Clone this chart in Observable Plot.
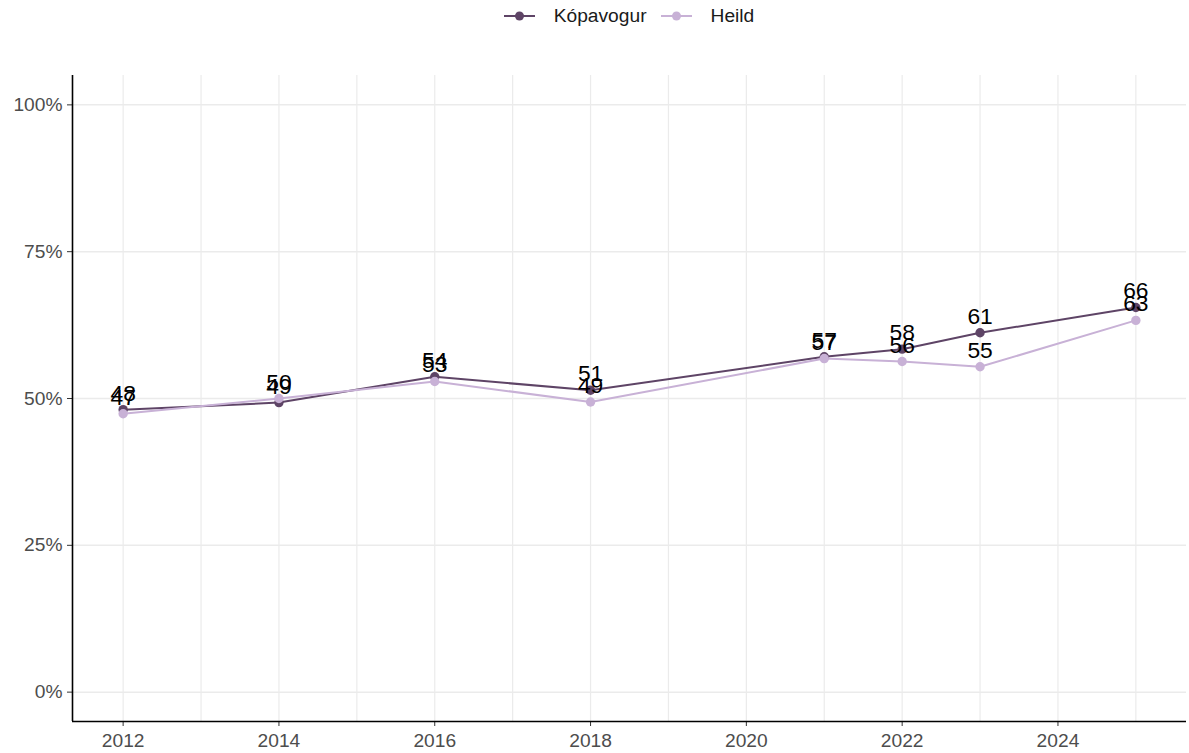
<!DOCTYPE html>
<html>
<head>
<meta charset="utf-8">
<script src="https://cdn.jsdelivr.net/npm/d3@7"></script>
<script src="https://cdn.jsdelivr.net/npm/@observablehq/plot@0.6"></script>
<style>
  body { margin: 0; background: #fff; font-family: "Liberation Sans", Arial, sans-serif; }
  #legend { height: 40px; display: flex; justify-content: center; align-items: center; gap: 14px; font-size: 19.2px; color: #1a1a1a; padding: 0 3px 8px 72px; box-sizing: border-box; width: 1189px; }
  .item { display: flex; align-items: center; gap: 19px; }
  .item svg { display: block; }
</style>
</head>
<body>
<div id="legend"></div>
<div id="chart"></div>
<script>
const years = [2012, 2014, 2016, 2018, 2021, 2022, 2023, 2025];
const kopavogur = [48.1, 49.3, 53.7, 51.4, 57.1, 58.4, 61.2, 65.5];
const heild = [47.4, 50.0, 52.9, 49.4, 56.8, 56.3, 55.4, 63.3];
const seriesNames = ["Kópavogur", "Heild"];
const seriesColors = ["#5e4466", "#c8b1d6"];
const yTicks = [0, 25, 50, 75, 100];
const xTicks = [2012, 2014, 2016, 2018, 2020, 2022, 2024];
const gridYears = d3.range(2012, 2026);

const data = [];
years.forEach((y, i) => data.push({year: y, value: kopavogur[i], series: seriesNames[0]}));
years.forEach((y, i) => data.push({year: y, value: heild[i], series: seriesNames[1]}));

// legend
const legend = document.getElementById("legend");
seriesNames.forEach((name, i) => {
  const item = document.createElement("div");
  item.className = "item";
  item.innerHTML = `<svg width="31" height="12"><line x1="0" x2="31" y1="6" y2="6" stroke="${seriesColors[i]}" stroke-width="2"/><circle cx="15.5" cy="6" r="4.5" fill="${seriesColors[i]}"/></svg><span>${name}</span>`;
  legend.appendChild(item);
});

const xDom = [2011.35, 2025.65];
const yDom = [-5, 105];

const chart = Plot.plot({
  width: 1189,
  height: 713,
  marginLeft: 72,
  marginRight: 3,
  marginTop: 35,
  marginBottom: 32,
  style: {fontFamily: "Liberation Sans, Arial, sans-serif", background: "#fff"},
  x: {domain: xDom, axis: null},
  y: {domain: yDom, axis: null},
  color: {domain: seriesNames, range: seriesColors},
  marks: [
    Plot.ruleX(gridYears, {stroke: "#ebebeb", strokeWidth: 1.2, y1: yDom[0], y2: yDom[1]}),
    Plot.ruleY(yTicks, {stroke: "#ebebeb", strokeWidth: 1.5, x1: xDom[0], x2: xDom[1]}),
    Plot.axisY({ticks: yTicks, tickFormat: d => d + "%", tickSize: 5, tickPadding: 5, fontSize: 19.2, color: "#4d4d4d", stroke: "#333", anchor: "left", label: null}),
    Plot.axisX({ticks: xTicks, tickFormat: d => String(d), tickSize: 5, tickPadding: 7, fontSize: 19.2, color: "#4d4d4d", stroke: "#333", anchor: "bottom", label: null}),
    Plot.ruleX([xDom[0]], {y1: yDom[0], y2: yDom[1], stroke: "#000", strokeWidth: 1.6}),
    Plot.ruleY([yDom[0]], {x1: xDom[0], x2: xDom[1], stroke: "#000", strokeWidth: 1.6}),
    Plot.line(data, {x: "year", y: "value", z: "series", stroke: "series", strokeWidth: 2}),
    Plot.dot(data, {x: "year", y: "value", fill: "series", r: 4.7}),
    Plot.text(data, {x: "year", y: "value", text: d => String(Math.round(d.value)), fill: "#000", fontSize: 22.8, lineAnchor: "bottom", dy: -9})
  ]
});
document.getElementById("chart").appendChild(chart);
</script>
</body>
</html>
